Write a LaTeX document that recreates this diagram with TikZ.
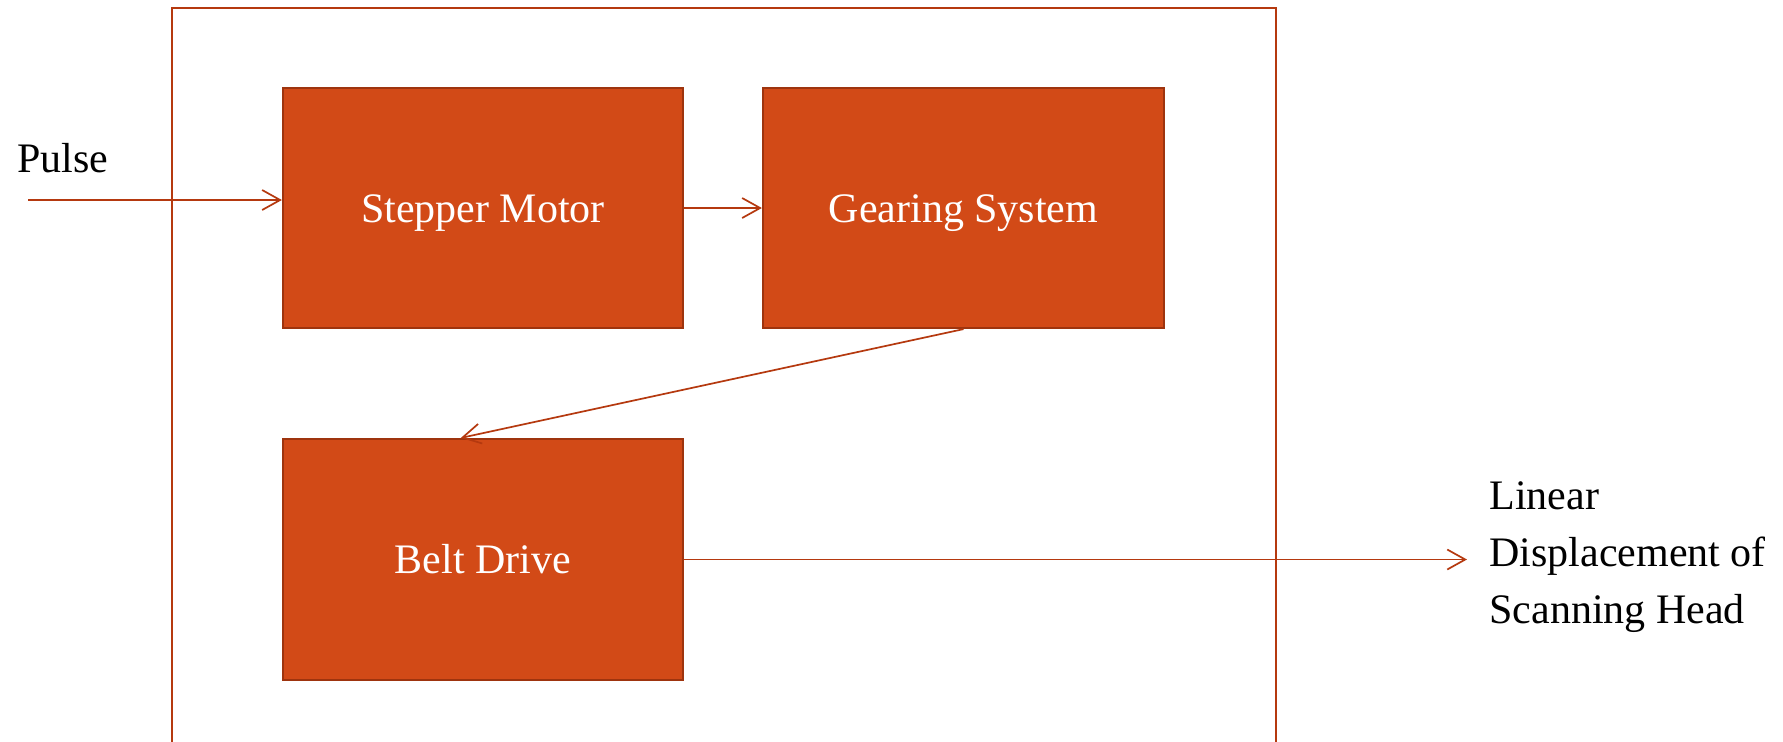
\documentclass[tikz,border=0pt]{standalone}
\usepackage{fontspec}
\setmainfont{Liberation Serif}
\usetikzlibrary{arrows.meta,calc}
\definecolor{blockfill}{HTML}{D24A17}
\definecolor{blockedge}{HTML}{9E340E}
\definecolor{wire}{HTML}{B5390F}
\tikzset{
  block/.style={draw=blockedge, line width=1.1pt, fill=blockfill, text=white,
    font=\fontsize{21}{25}\selectfont, inner sep=0pt,
    text height=14pt, text depth=0pt},
  wirearrow/.style={draw=wire, line width=0.85pt,
    -{Straight Barb[length=9pt, width=10pt, line width=0.85pt]}},
  label/.style={font=\fontsize{21}{28.5}\selectfont, inner sep=0pt, text=black},
  frame/.style={draw=wire, line width=1pt}
}
\begin{document}
\begin{tikzpicture}[x=0.5pt, y=-0.5pt]
  \useasboundingbox (0,0) rectangle (1783,741);
  \fill[white] (0,0) rectangle (1783,741);

  % enclosing system frame, open at the lower page edge
  \begin{scope}
    \clip (0,0) rectangle (1783,741);
    \draw[frame] (172,760) -- (172,8) -- (1276,8) -- (1276,760);
  \end{scope}

  % blocks
  \node[block, minimum width=200pt, minimum height=120pt] (stepper) at (483,208) {Stepper Motor};
  \node[block, minimum width=200.5pt, minimum height=120pt] (gearing) at (963.5,208) {Gearing System};
  \node[block, minimum width=200pt, minimum height=120.5pt] (belt) at (483,559.5) {Belt Drive};

  % input and output labels
  \node[label, anchor=base west] (pulse) at (17,172) {Pulse};
  \node[label, anchor=base west, align=left] (output) at (1489,623) {Linear\\Displacement of\\Scanning Head};

  % connectors
  \coordinate (pulsein) at (28,200);
  \coordinate (headout) at (1467,559.5);
  \draw[wirearrow] (pulsein) -- (pulsein -| stepper.west);
  \draw[wirearrow] (stepper.east) -- (gearing.west);
  \draw[wirearrow] (gearing.south) -- ($(belt.north west)!0.445!(belt.north east)$);
  \draw[wirearrow] (belt.east) -- (headout);
\end{tikzpicture}
\end{document}
